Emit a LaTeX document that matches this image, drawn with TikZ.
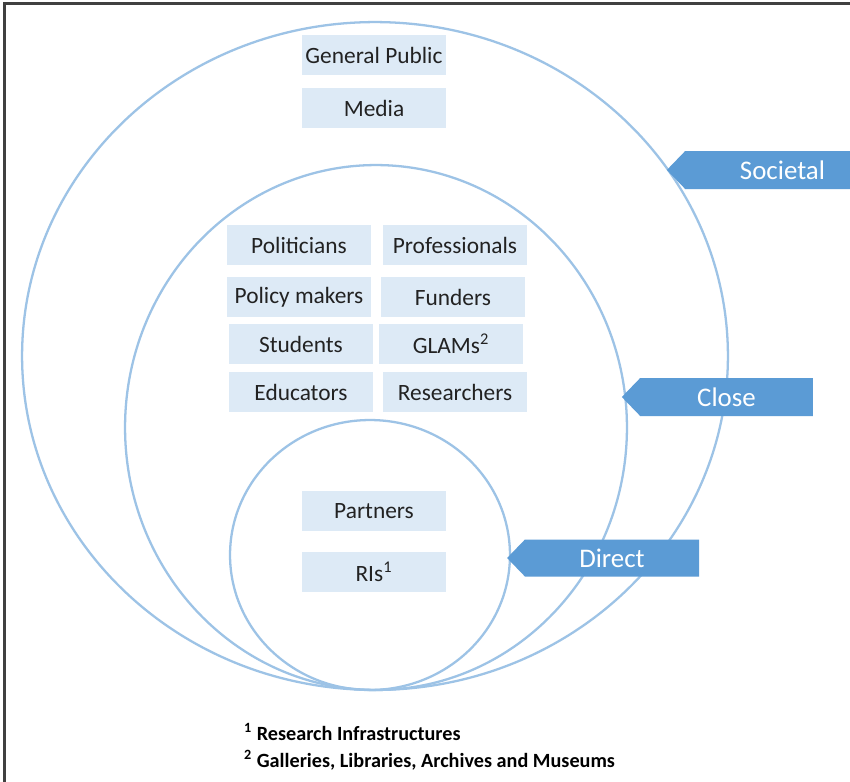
\documentclass[tikz,border=0pt]{standalone}
\usepackage{fontspec}
\setmainfont{Carlito}
\usepackage{xcolor}
\usepackage{tikz}
\usetikzlibrary{shapes.symbols}
\definecolor{boxblue}{HTML}{DDEAF6}
\definecolor{tagblue}{HTML}{5B9BD5}
\definecolor{ringblue}{HTML}{9DC3E6}
\definecolor{textgray}{HTML}{222222}
\tikzset{
    groupbox/.style={fill=boxblue, text=textgray, minimum width=2.9cm, minimum height=0.8cm,
        inner sep=0pt, font=\fontsize{13.3}{16}\selectfont},
    circleline/.style={draw=ringblue, line width=1.3pt},
    levelarrow/.style={shape=signal, signal to=west, signal from=nowhere, signal pointer angle=92,
        fill=tagblue, text=white, minimum height=0.76cm, inner sep=0pt,
        font=\fontsize{15.3}{18}\selectfont},
    fnote/.style={anchor=west, font=\bfseries\fontsize{11.5}{14}\selectfont}}

\begin{document}
\begin{tikzpicture}[x=0.02cm, y=-0.02cm]

            \path[use as bounding box, clip] (0,0) rectangle (850,782);
            \fill[white] (0,0) rectangle (850,782);
            \draw[black!75, line width=1.6pt] (4.5,782) -- (4.5,3.5) -- (850,3.5);

            \draw[circleline] (375,356) ellipse [x radius=7.06cm, y radius=6.68cm];
            \draw[circleline] (376,427.5) ellipse [x radius=5.02cm, y radius=5.25cm];
            \draw[circleline] (370,555) ellipse [x radius=2.8cm, y radius=2.7cm];

            \node[groupbox] (gp) at (374,55) {General Public};
            \node[groupbox] (media) at (374,108) {Media};

            \node[groupbox] (pol) at (299,245) {Politicians};
            \node[groupbox] (prof) at (455,245) {Professionals};
            \node[groupbox] (pm) at (299,297) {Policy makers};
            \node[groupbox] (fund) at (453,297) {Funders};
            \node[groupbox] (stud) at (301,344) {Students};
            \node[groupbox] (glam) at (451,344) {GLAMs\textsuperscript{2}};
            \node[groupbox] (edu) at (301,392) {Educators};
            \node[groupbox] (res) at (455,392) {Researchers};

            \node[groupbox] (part) at (374,511) {Partners};
            \node[groupbox] (ris) at (374,572) {RIs\textsuperscript{1}};

            \node[levelarrow, minimum width=4.26cm] (societal) at (782.5,170) {Societal};
            \node[levelarrow, minimum width=3.82cm] (close) at (726.5,397) {Close};
            \node[levelarrow, minimum width=3.84cm, minimum height=0.74cm] (direct) at (612,558) {Direct};

            \node[fnote] (fn1) at (238,732) {\textsuperscript{1} Research Infrastructures};
            \node[fnote] (fn2) at (238,760) {\textsuperscript{2} Galleries, Libraries, Archives and Museums};

        \end{tikzpicture}
\end{document}
